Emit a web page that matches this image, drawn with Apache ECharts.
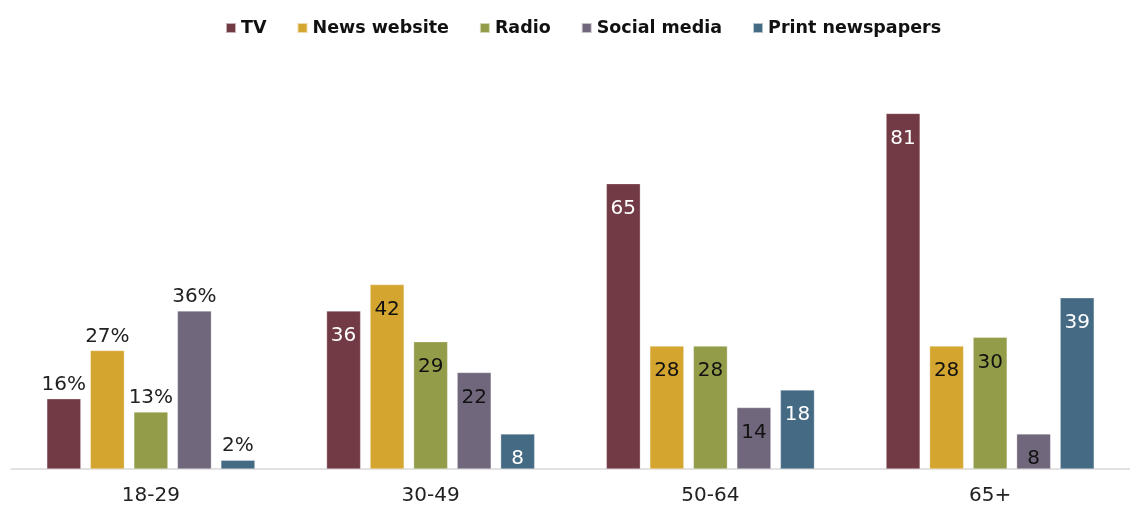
<!DOCTYPE html>
<html>
<head>
<meta charset="utf-8">
<script src="https://cdn.jsdelivr.net/npm/echarts@6/dist/echarts.min.js"></script>
<style>
  html, body { margin: 0; padding: 0; background: #fff; }
  #chart { width: 1130px; height: 506px; }
</style>
</head>
<body>
<div id="chart"></div>
<script>
let ageGroups = ["18-29", "30-49", "50-64", "65+"];
let seriesNames = ["TV", "News website", "Radio", "Social media", "Print newspapers"];
let tvValues = [16, 36, 65, 81];
let newsWebValues = [27, 42, 28, 28];
let radioValues = [13, 29, 28, 30];
let socialValues = [36, 22, 14, 8];
let printValues = [2, 8, 18, 39];

let allValues = [tvValues, newsWebValues, radioValues, socialValues, printValues];
let colors = ["#723a45", "#d4a52f", "#939c48", "#71677c", "#456a84"];
// white labels on the dark bars, black on the light ones
let insideLabelColors = ["#fff", "#111", "#111", "#111", "#fff"];

let chartDom = document.getElementById("chart");
let chart = echarts.init(chartDom);

let series = allValues.map((vals, si) => {
    return {
        name: seriesNames[si],
        type: "bar",
        barWidth: 34,
        barGap: "28%",
        itemStyle: {
            color: colors[si],
            borderColor: "rgba(255,255,255,0.6)",
            borderWidth: 0.5
        },
        data: vals.map((v, i) => {
            // first group gets % labels above the bar, the rest sit inside
            if (i === 0) {
                return {
                    value: v,
                    label: {
                        position: "top",
                        distance: 4,
                        color: "#222",
                        formatter: "{c}%"
                    }
                };
            }
            return {
                value: v,
                label: {
                    position: "insideTop",
                    distance: 15,
                    color: insideLabelColors[si],
                    formatter: "{c}"
                }
            };
        }),
        label: {
            show: true,
            fontSize: 20,
            fontFamily: "DejaVu Sans, sans-serif"
        }
    };
});

let option = {
    animation: false,
    color: colors,
    legend: {
        top: 14,
        left: 220,
        icon: "rect",
        itemWidth: 10,
        itemHeight: 10,
        itemGap: 30,
        textStyle: {
            fontSize: 17.5,
            fontWeight: "bold",
            color: "#111",
            fontFamily: "DejaVu Sans, sans-serif"
        },
        data: seriesNames
    },
    grid: {
        left: 11,
        top: 30,
        width: 1126,
        height: 441
    },
    xAxis: {
        type: "category",
        data: ageGroups,
        axisTick: { show: false },
        axisLine: { lineStyle: { color: "#d9d9d9", width: 1.5 } },
        axisLabel: {
            fontSize: 20,
            color: "#222",
            margin: 17,
            fontFamily: "DejaVu Sans, sans-serif"
        }
    },
    yAxis: {
        type: "value",
        min: 0,
        max: 100,
        show: false,
        splitLine: { show: false }
    },
    series: series
};

option && chart.setOption(option);
</script>
</body>
</html>
